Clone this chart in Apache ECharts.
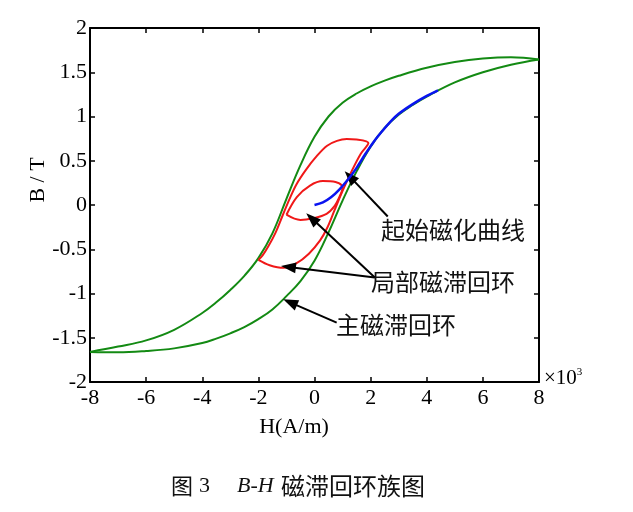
<!DOCTYPE html>
<html><head><meta charset="utf-8">
<script src="https://cdn.jsdelivr.net/npm/echarts@6/dist/echarts.min.js"></script>
<style>html,body{margin:0;padding:0;background:#fff}#c{width:633px;height:512px}</style>
</head><body><div id="c"></div>
<script>
// ---- data (H in 10^3 A/m, B in T) ----
const mainUpH = [8, 7, 6, 5, 4, 3, 2.5, 2, 1.5, 1, 0.5, 0, -0.5, -1, -1.5, -2, -2.5, -3, -3.5, -4, -5, -6, -7, -8];
const mainUpB = [1.645, 1.67, 1.655, 1.615, 1.55, 1.46, 1.405, 1.34, 1.26, 1.155, 1.0, 0.77, 0.45, 0.07, -0.32, -0.60, -0.80, -0.96, -1.10, -1.22, -1.41, -1.53, -1.60, -1.66];
const mainLowH = [-8, -7, -6, -5, -4, -3.5, -3, -2.5, -2, -1.5, -1, -0.5, 0, 0.5, 1, 1.5, 2, 2.5, 3, 3.5, 4, 5, 6, 7, 8];
const mainLowB = [-1.66, -1.665, -1.65, -1.62, -1.56, -1.51, -1.45, -1.38, -1.29, -1.18, -1.03, -0.86, -0.63, -0.31, 0.05, 0.38, 0.66, 0.87, 1.02, 1.13, 1.225, 1.385, 1.50, 1.585, 1.645];
const initH = [0, 0.3, 0.6, 0.9, 1.2, 1.5, 1.8, 2.1, 2.4, 2.7, 3.0, 3.5, 4.0, 4.4];
const initB = [0, 0.03, 0.09, 0.18, 0.29, 0.42, 0.57, 0.71, 0.83, 0.94, 1.03, 1.14, 1.232, 1.295];
const bigLoopH = [-2.0, -1.6, -1.1, -0.65, -0.2, 0.2, 0.45, 0.7, 1.0, 1.35, 1.65, 1.92, 1.5, 1.15, 0.8, 0.45, 0.1, -0.3, -0.65, -0.9, -1.15, -1.4, -1.65, -1.85, -2.0];
const bigLoopB = [-0.62, -0.68, -0.71, -0.66, -0.55, -0.40, -0.26, -0.07, 0.16, 0.40, 0.58, 0.70, 0.74, 0.745, 0.725, 0.67, 0.56, 0.40, 0.23, 0.06, -0.13, -0.32, -0.47, -0.57, -0.62];
const smallLoopH = [-1.0, -0.63, -0.16, 0.3, 0.75, 0.97, 0.99, 0.9, 0.72, 0.43, -0.05, -0.5, -1.0];
const smallLoopB = [-0.11, 0.09, 0.22, 0.27, 0.26, 0.22, 0.18, 0.10, -0.01, -0.10, -0.15, -0.17, -0.11];
const xTicks = [-8, -6, -4, -2, 0, 2, 4, 6, 8];
const yTicks = [-2, -1.5, -1, -0.5, 0, 0.5, 1, 1.5, 2];
// annotation arrows: [tailH, tailB, tipH, tipB]
const arrowInit = [2.61, -0.13, 1.26, 0.32];
const arrowLocal1 = [2.15, -0.82, -0.10, -0.15];
const arrowLocal2 = [2.15, -0.82, -0.93, -0.70];
const arrowMain = [0.79, -1.33, -0.87, -1.10];
const labels = {init: '起始磁化曲线', local: '局部磁滞回环', main: '主磁滞回环'};

const zip = (a, b) => a.map((v, i) => [v, b[i]]);
const serif = '"Liberation Serif", "Times New Roman", serif';
const cjk = '"Noto Sans CJK SC", sans-serif';
const green = '#138a13', red = '#f01818', blue = '#0a14f0';

function arrowLine(a) {
  return [{coord: [a[0], a[1]], symbol: 'none'}, {coord: [a[2], a[3]], symbol: 'triangle'}];
}

const chart = echarts.init(document.getElementById('c'), null, {renderer: 'canvas'});
const axisCommon = {
  axisLine: {show: true, onZero: false, lineStyle: {color: '#000', width: 2}},
  axisTick: {show: true, inside: true, length: 5, lineStyle: {color: '#000', width: 1.5}},
  splitLine: {show: false}
};
chart.setOption({
  animation: false,
  backgroundColor: '#fff',
  grid: {left: 90, right: 94, top: 28, bottom: 130},
  xAxis: [
    Object.assign({type: 'value', min: xTicks[0], max: xTicks[xTicks.length-1], interval: 2, position: 'bottom',
      axisLabel: {color: '#000', fontFamily: serif, fontSize: 22, margin: 5}}, axisCommon),
    Object.assign({type: 'value', min: xTicks[0], max: xTicks[xTicks.length-1], interval: 2, position: 'top',
      axisLabel: {show: false}}, axisCommon)
  ],
  yAxis: [
    Object.assign({type: 'value', min: yTicks[0], max: yTicks[yTicks.length-1], interval: 0.5, position: 'left',
      axisLabel: {color: '#000', fontFamily: serif, fontSize: 22, margin: 3}}, axisCommon),
    Object.assign({type: 'value', min: yTicks[0], max: yTicks[yTicks.length-1], interval: 0.5, position: 'right',
      axisLabel: {show: false}}, axisCommon)
  ],
  series: [
    {type: 'line', data: zip(mainUpH, mainUpB), showSymbol: false, smooth: 0.4, z: 3,
      lineStyle: {color: green, width: 2}},
    {type: 'line', data: zip(mainLowH, mainLowB), showSymbol: false, smooth: 0.4, z: 3,
      lineStyle: {color: green, width: 2}},
    {type: 'line', data: zip(bigLoopH, bigLoopB), showSymbol: false, smooth: 0.35, z: 4,
      lineStyle: {color: red, width: 2}},
    {type: 'line', data: zip(smallLoopH, smallLoopB), showSymbol: false, smooth: 0.35, z: 4,
      lineStyle: {color: red, width: 2}},
    {type: 'line', data: zip(initH, initB), showSymbol: false, smooth: 0.35, z: 5,
      lineStyle: {color: blue, width: 2.5},
      markLine: {silent: true, animation: false, symbolSize: [11, 15],
        lineStyle: {color: '#000', width: 2, type: 'solid'}, label: {show: false},
        data: [arrowLine(arrowInit), arrowLine(arrowLocal1), arrowLine(arrowLocal2), arrowLine(arrowMain)]}}
  ],
  graphic: [
    {type: 'text', left: 381, top: 218, style: {text: labels.init, font: '24px ' + cjk, fill: '#111'}},
    {type: 'text', left: 371, top: 270, style: {text: labels.local, font: '24px ' + cjk, fill: '#111'}},
    {type: 'text', left: 336, top: 313, style: {text: labels.main, font: '24px ' + cjk, fill: '#111'}},
    {type: 'text', x: 38, y: 180, rotation: Math.PI / 2,
      style: {text: 'B / T', font: '22px ' + serif, fill: '#000', align: 'center', verticalAlign: 'middle'}},
    {type: 'text', x: 294, y: 427,
      style: {text: 'H(A/m)', font: '22px ' + serif, fill: '#000', align: 'center', verticalAlign: 'middle'}},
    {type: 'text', x: 544, y: 378,
      style: {text: '×10{s|3}', font: '21px ' + serif, fill: '#000', align: 'left', verticalAlign: 'middle',
        rich: {s: {fontSize: 11, fontFamily: 'Liberation Serif', verticalAlign: 'top', padding: [0, 0, 12, 0]}}}},
    {type: 'text', x: 171, y: 486,
      style: {text: '图', font: '22px ' + cjk, fill: '#111', align: 'left', verticalAlign: 'middle'}},
    {type: 'text', x: 199, y: 486,
      style: {text: '3', font: '22px ' + serif, fill: '#111', align: 'left', verticalAlign: 'middle'}},
    {type: 'text', x: 237, y: 486,
      style: {text: 'B-H', font: 'italic 22px ' + serif, fill: '#111', align: 'left', verticalAlign: 'middle'}},
    {type: 'text', x: 281, y: 486,
      style: {text: '磁滞回环族图', font: '24px ' + cjk, fill: '#111', align: 'left', verticalAlign: 'middle'}}
  ]
});
</script>
</body></html>
